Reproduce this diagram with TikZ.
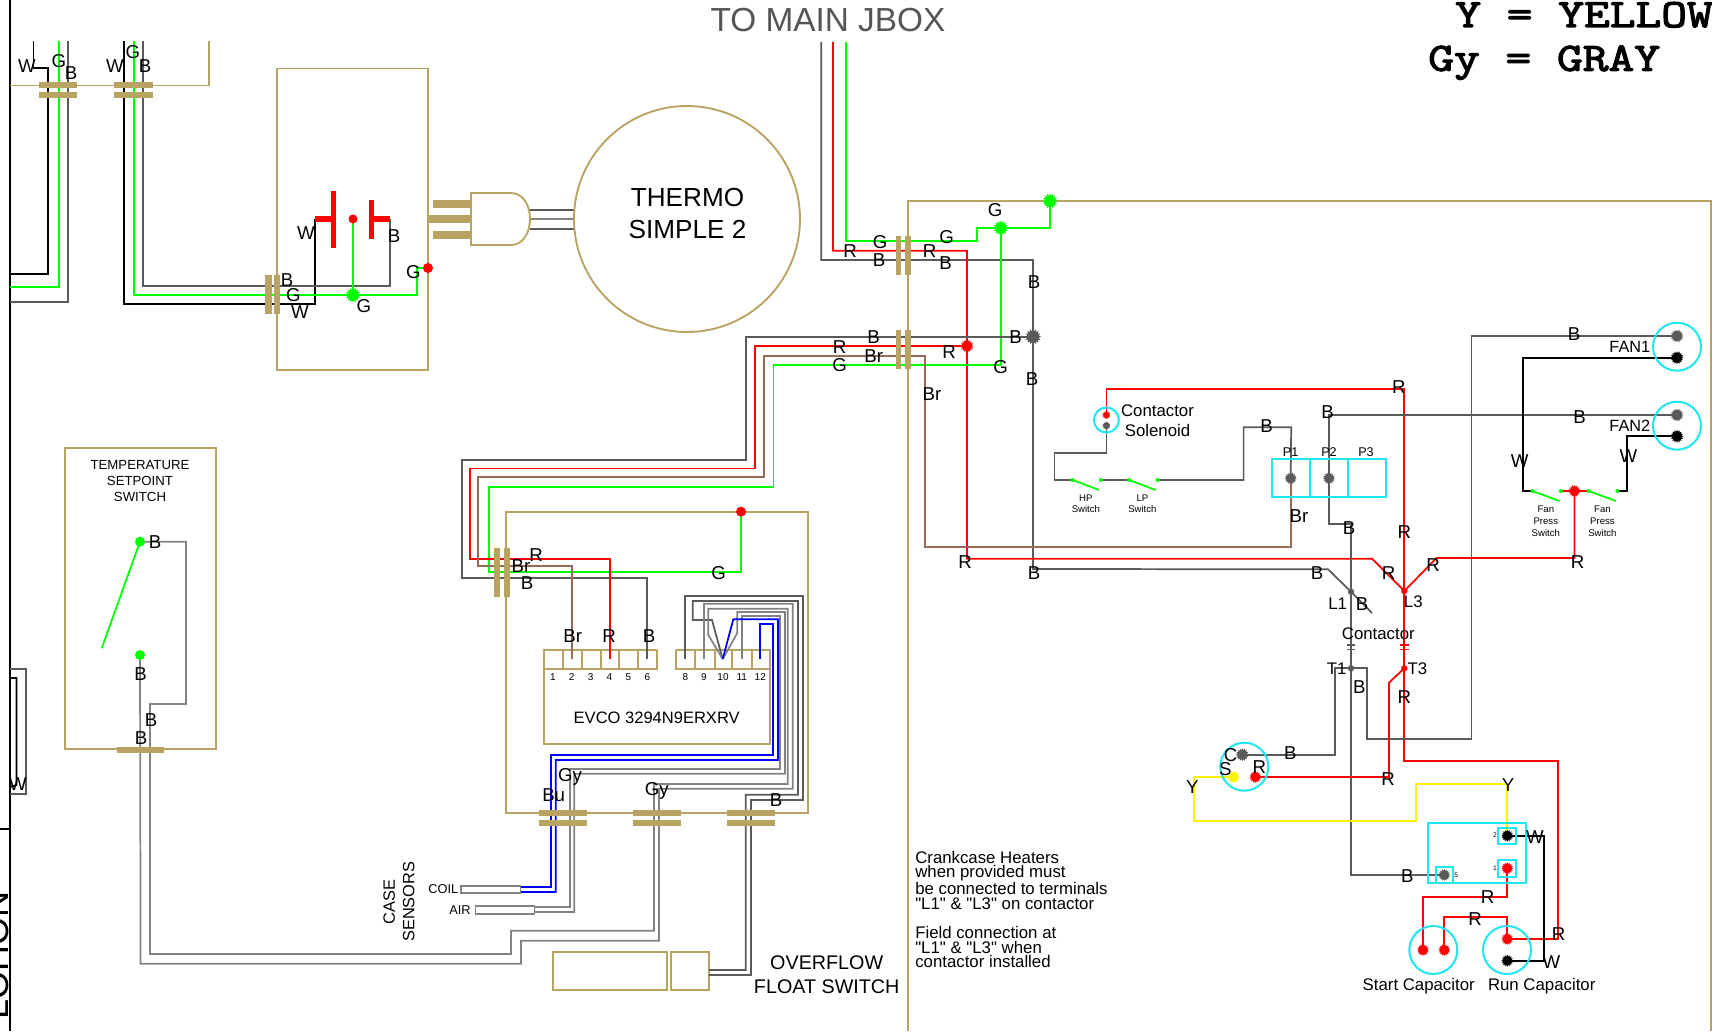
\documentclass[tikz,border=0pt]{standalone}
\usepackage{fontspec}
\setmainfont{Liberation Sans}
\newfontfamily\courb[FakeBold=3,FakeStretch=1.25]{Latin Modern Mono}
\usetikzlibrary{shapes.geometric}
\pgfdeclarelayer{wires}
\pgfsetlayers{wires,main}
\definecolor{tanc}{HTML}{B8A362}
\definecolor{wgray}{HTML}{5A5A5A}
\definecolor{lgray}{HTML}{828282}
\definecolor{brownw}{HTML}{9A6A58}
\definecolor{cyanc}{HTML}{1FE6F2}
\definecolor{titleg}{HTML}{555555}
\tikzset{
  tanl/.style={draw=tanc,line width=1.4pt},
  tanbar/.style={fill=tanc,draw=none},
  wk/.style={draw=black,line width=1.3pt},
  wg/.style={draw=wgray,line width=1.3pt},
  wl/.style={draw=lgray,line width=1.3pt},
  wr/.style={draw=red,line width=1.3pt},
  wn/.style={draw=green,line width=1.3pt},
  wb/.style={draw=brownw,line width=1.3pt},
  wu/.style={draw=blue,line width=1.3pt},
  wy/.style={draw=yellow,line width=1.3pt},
  cyl/.style={draw=cyanc,line width=1.5pt},
  spk/.style={star,star points=16,star point ratio=1.4,inner sep=0pt,draw=none},
  rnd/.style={circle,inner sep=0pt,draw=none},
  lbl/.style={inner sep=0pt,font=\fontsize{14}{16}\selectfont,text height=10pt,text depth=0pt},
  txt/.style={inner sep=0pt,align=center},
  ring/.style={circle,cyl,inner sep=0pt,fill=none},
}
\newcounter{lblc}
\newcommand\lb[3]{\stepcounter{lblc}\node[lbl] (lab\arabic{lblc}) at (#1,#2) {#3};}
\newcommand\sd[5]{\node[spk,fill=#4,minimum size=#5*0.75pt] (#1) at (#2,#3) {};}
\newcommand\rd[5]{\node[rnd,fill=#4,minimum size=#5*0.75pt] (#1) at (#2,#3) {};}
\begin{document}
\begin{tikzpicture}[x=0.75pt,y=-0.75pt,line join=miter]
\useasboundingbox (0,0) rectangle (1712,1031);

% ---- terminal dots
\rd{rS}{353}{219}{red}{9}
\rd{rA}{428}{268}{red}{10}
\sd{gBot}{353}{295}{green}{15}
\rd{rE}{741}{511.7}{red}{10}
\rd{gT1}{140}{541.7}{green}{10}
\rd{gT2}{140}{655}{green}{10}
\sd{gTR}{1050}{201}{green}{15}
\sd{gJ}{1000.7}{228}{green}{15}
\sd{bJ}{1033}{336.7}{wgray}{16}
\sd{rJ}{967}{346}{red}{13}
\sd{csR}{1106.4}{415}{red}{8}
\sd{csB}{1106.4}{425.7}{wgray}{8}
\sd{pA}{1290.7}{478.3}{wgray}{12}
\sd{pB}{1329}{478.3}{wgray}{12}
\sd{fOneG}{1677}{336}{wgray}{13}
\sd{fOneK}{1677}{357.7}{black}{13}
\sd{fTwoG}{1677}{415}{wgray}{13}
\sd{fTwoK}{1677}{436.3}{black}{13}
\sd{rF}{1574.5}{491}{red}{12}
\rd{swA}{1072.6}{480}{green}{4}
\rd{swB}{1100.9}{480}{green}{4}
\rd{swC}{1129}{480}{green}{4}
\rd{swD}{1157.4}{480}{green}{4}
\rd{swE}{1532.5}{491}{green}{4}
\rd{swF}{1560.8}{491}{green}{4}
\rd{swG}{1588.6}{491}{green}{4}
\rd{swH}{1617.4}{491}{green}{4}
\sd{cLa}{1351}{591.7}{wgray}{7}
\sd{cLc}{1404.3}{591}{red}{7}
\sd{cTa}{1351}{668.3}{wgray}{7}
\sd{cTc}{1404.3}{668.3}{red}{7}
\sd{mC}{1242.3}{754.7}{wgray}{13}
\sd{mS}{1233.7}{777}{yellow}{12}
\sd{mR}{1255.3}{777}{red}{12}
\sd{rlTwo}{1507.3}{835.7}{black}{12}
\sd{rlOne}{1507.3}{868.3}{red}{12}
\sd{rlFive}{1444.3}{875}{wgray}{12}
\sd{scA}{1423}{950}{red}{12}
\sd{scB}{1444.3}{950}{red}{12}
\sd{rcR}{1507.3}{939}{red}{12}
\sd{rcK}{1507.3}{960.7}{black}{12}

\begin{pgfonlayer}{wires}
% ---- frame
\draw[black,line width=1.4pt] (10,0) -- (10,1031);
\draw[black,line width=1pt] (0,829) -- (10,829);
\draw[wg] (10,669) -- (26,669) -- (26,794) -- (10,794);
\draw[wk] (10,678) -- (16.5,678) -- (16.5,785) -- (10,787);
% ---- tan boxes
\draw[tanl] (10,85.5) -- (209,85.5) -- (209,41);
\draw[tanl] (277,68.5) rectangle (428,370);
\draw[tanl] (65,448.3) rectangle (215.7,749);
\draw[tanl] (506,511.7) rectangle (808,813);
\draw[tanl] (908,1031) -- (908,201) -- (1711,201) -- (1711,1031);
\draw[tanl] (552.7,952.3) rectangle (666.7,990.3);
\draw[tanl] (670.7,952.3) rectangle (709,990.3);
% EVCO
\draw[tanl] (657,650) -- (543.7,650) -- (543.7,744) -- (770,744) -- (770,650) -- (675.7,650);
\draw[tanl] (543.7,669) -- (657,669) -- (657,650);
\draw[tanl] (770,669) -- (675.7,669) -- (675.7,650);
\foreach \xx in {562.7,581.7,600.7,619.3,638.3,694.7,714.7,732.3,752.3}{\draw[tanl] (\xx,650) -- (\xx,669);}
% ---- upper-left wires
\draw[wk] (33.5,41) -- (33.5,68) -- (48,68) -- (48,274) -- (10,274);
\draw[wn] (58.7,41) -- (58.7,287) -- (10,287);
\draw[wg] (68,41) -- (68,301.7) -- (10,301.7);
\draw[wk] (124,41) -- (124,304) -- (315,304) -- (315,219);
\draw[wn] (134,41) -- (134,295) -- (417,295) -- (417,268) -- (rA.center);
\draw[wg] (143,41) -- (143,286) -- (390,286) -- (390,219);
\draw[wn] (rS.center) -- (gBot.center);
% ---- thermo plug wires
\draw[wg] (530,210) -- (575,210);
\draw[wl] (530,219) -- (575,219);
\draw[wg] (530,229) -- (575,229);
% ---- main jbox wires
\draw[wg] (821.3,42) -- (821.3,260) -- (1033,260) -- (1033,569) -- (1328,569.3) -- (cLa.center) -- (1372,613);
\draw[wr] (833,42) -- (833,250.7) -- (967,250.7) -- (967,558.7) -- (1372,558.7) -- (cLc.center);
\draw[wn] (846,42) -- (846,241) -- (976.7,241) -- (976.7,228) -- (gJ.center) -- (1050,228) -- (gTR.center);
\draw[wn] (gJ.center) -- (1000.7,364.7) -- (773.5,364.7) -- (773.5,487) -- (489,487) -- (489,572.3) -- (741,572.3) -- (rE.center);
\draw[wg] (bJ.center) -- (746,336.7) -- (746,460) -- (461.7,460) -- (461.7,577.7) -- (647.3,577.7) -- (647.3,659);
\draw[wr] (rJ.center) -- (755,346) -- (755,468.5) -- (470.3,468.5) -- (470.3,559) -- (610,559) -- (610,659);
\draw[wb] (pA.center) -- (1290.7,547) -- (925,547) -- (925,355.7) -- (764,355.7) -- (764,477) -- (478.3,477) -- (478.3,566) -- (572,566) -- (572,659);
% ---- controller terminals
\draw[wg] (685,659) -- (685,596) -- (803.3,596) -- (803.3,799.7) -- (750.7,799.7) -- (750.7,974.7) -- (709,974.7);
\draw[wg] (722.7,659) -- (712,620) -- (692.7,620) -- (692.7,601) -- (798,601) -- (798,794.7) -- (745.7,794.7) -- (745.7,970) -- (709,970);
\draw[wl] (704,659) -- (704,603.7) -- (792.7,603.7) -- (792.7,788.7) -- (659,788.7) -- (659,940.7) -- (521,940.7) -- (521,963.7) -- (140.6,963.7) -- (gT2.center);
\draw[wl] (722.7,659) -- (708.3,635) -- (708.3,608.7) -- (787.7,608.7) -- (787.7,784) -- (654,784) -- (654,930.7) -- (511,930.7) -- (511,954) -- (150,954) -- (150,704) -- (186,704) -- (186,541.7) -- (gT1.center);
\draw[wl] (722.7,659) -- (737.3,633) -- (737.3,612) -- (785,612) -- (785,773.7) -- (574.3,773.7) -- (574.3,912) -- (534.4,912);
\draw[wl] (741.7,659) -- (741.7,616) -- (780,616) -- (780,768.7) -- (569.7,768.7) -- (569.7,906.7) -- (534.4,906.7);
\draw[wu] (722.7,659) -- (733.3,619.3) -- (778,619.3) -- (778,760) -- (555.7,760) -- (555.7,892) -- (520.5,892);
\draw[wu] (760.3,659) -- (760.3,624.3) -- (773,624.3) -- (773,755) -- (550.7,755) -- (550.7,886.7) -- (520.5,886.7);
\draw[wl] (461,885.7) rectangle (520.5,893);
\draw[wl] (475.4,906) rectangle (534.4,913.7);
% ---- temperature switch
\draw[wn] (gT1.center) -- (101.7,648.3);
% ---- solenoid + pressure switches
\draw[wr] (csR.center) -- (1106.4,389) -- (1404.3,389) -- (1404.3,760.7) -- (1558.3,760.7) -- (1558.3,939) -- (rcR.center);
\draw[wg] (csB.center) -- (1106.4,453.3) -- (1054.6,453.3) -- (1054.6,480) -- (swA.center);
\draw[wg] (swB.center) -- (swC.center);
\draw[wg] (swD.center) -- (1243.6,480) -- (1243.6,427.3) -- (1291.2,427.3) -- (pA.center);
\draw[wn] (swA.center) -- (1099,490);
\draw[wn] (swC.center) -- (1155.7,490);
\draw[wg] (pB.center) -- (1329,415) -- (fTwoG.center);
\draw[wg] (pB.center) -- (1329,523.7) -- (1351,523.7) -- (1351,875) -- (rlFive.center);
% ---- fan wires
\draw[wg] (fOneG.center) -- (1471.6,336) -- (1471.6,739.3) -- (1367.3,739.3) -- (1367.3,668.3) -- (cTa.center) -- (1335,668.3) -- (1335,754.7) -- (mC.center);
\draw[wk] (fOneK.center) -- (1523,357.7) -- (1523,491) -- (swE.center);
\draw[wn] (swE.center) -- (1559.5,501);
\draw[wr] (swF.center) -- (swG.center);
\draw[wn] (swG.center) -- (1616,501);
\draw[wk] (swH.center) -- (1626.8,491) -- (1626.8,436.3) -- (fTwoK.center);
\draw[wr] (cLc.center) -- (1436.5,558) -- (1574.5,558) -- (rF.center);
% ---- contactor / compressor
\draw[wg,line width=.8pt] (1347.3,645) -- (1355,645) (1347.3,649.3) -- (1355,649.3);
\draw[wr,line width=.8pt] (1400,645) -- (1408.7,645) (1400,649.3) -- (1408.7,649.3);
\draw[wr] (cTc.center) -- (1389,682.7) -- (1389,777) -- (mR.center);
\draw[wy] (mS.center) -- (1194.3,777) -- (1194.3,820.7) -- (1416.3,820.7) -- (1416.3,784.3) -- (1507.3,784.3) -- (rlTwo.center);
\draw[wk] (rlTwo.center) -- (1544,835.7) -- (1544,960.7) -- (rcK.center);
\draw[wr] (rlOne.center) -- (1507.3,896.7) -- (1423,896.7) -- (scA.center);
\draw[wr] (rcR.center) -- (1507.3,917) -- (1444.3,917) -- (scB.center);
\end{pgfonlayer}

% ---- connector bars
\foreach \a/\b in {39/77,114/153}{
  \fill[tanc] (\a,82) rectangle (\b,88);
  \fill[tanc] (\a,92) rectangle (\b,98);}
\fill[tanc] (265,275) rectangle (271.5,314);
\fill[tanc] (274,275) rectangle (280,314);
\foreach \a/\b in {236/275,330/368.7}{
  \fill[tanc] (896,\a) rectangle (901.3,\b);
  \fill[tanc] (905,\a) rectangle (910.7,\b);}
\fill[tanc] (494,548) rectangle (500,596.5);
\fill[tanc] (503.5,548) rectangle (509.5,596.5);
\foreach \a/\b in {539/586.7,633/680.7,727/774.7}{
  \fill[tanc] (\a,810) rectangle (\b,816);
  \fill[tanc] (\a,820) rectangle (\b,825.7);}
\fill[tanc] (117,746.7) rectangle (164,752.7);
% ---- thermo plug
\fill[tanc] (433,200) rectangle (471,208);
\fill[tanc] (428,215) rectangle (471,223);
\fill[tanc] (433,231) rectangle (471,239);
\draw[tanl,fill=white] (471,193) -- (511,193) .. controls (523,193) and (530,205) .. (530,219) .. controls (530,233) and (523,245) .. (511,245) -- (471,245) -- cycle;
\node[circle,tanl,inner sep=0pt,minimum size=226*0.75pt] (thermo) at (687,219) {};
% ---- red thermostat plates
\fill[red] (330.7,191) rectangle (336.3,248);
\fill[red] (368.5,200) rectangle (373.5,239);
\fill[red] (315,216.3) rectangle (331,221.7);
\fill[red] (373,216.3) rectangle (390,221.7);
% ---- cyan parts
\node[ring,minimum size=25*0.75pt] (solenoid) at (1106.4,420) {};
\node[ring,minimum size=48*0.75pt] (fanOne) at (1677,346.7) {};
\node[ring,minimum size=48*0.75pt] (fanTwo) at (1677,425.7) {};
\node[ring,minimum size=48*0.75pt] (motor) at (1244.3,766.7) {};
\node[ring,minimum size=48*0.75pt] (startcap) at (1433.3,950) {};
\node[ring,minimum size=48*0.75pt] (runcap) at (1507,950) {};
\draw[cyl] (1271.9,459.3) rectangle (1385.5,497.3);
\draw[cyl] (1310,459.3) -- (1310,497.3) (1347.7,459.3) -- (1347.7,497.3);
\draw[cyl] (1428,822.7) rectangle (1525.7,883.3);
\draw[cyl] (1498.3,827.7) rectangle (1516.3,844.3);
\draw[cyl] (1498.3,859.7) rectangle (1516.3,876.7);
\draw[cyl] (1435.7,866.7) rectangle (1453.3,883.3);

% ---- clipped texts
\begin{scope}
\clip (0,0) rectangle (1712,1031);
\node[inner sep=0pt,anchor=base west,text=black,font=\fontsize{30}{30}\selectfont\courb\bfseries] (keyY) at (1455,27) {Y = YELLOW};
\node[inner sep=0pt,anchor=base west,rotate=90,font=\fontsize{27}{27}\selectfont] (sideT) at (8,1020) {LOHON};
\end{scope}
\node[inner sep=0pt,anchor=base west,font=\fontsize{30}{30}\selectfont\courb\bfseries] (keyG) at (1428,70.7) {Gy = GRAY};
\node[txt,text=titleg,font=\fontsize{25}{25}\selectfont] (tomain) at (828,20.5) {TO MAIN JBOX};
\node[txt,font=\fontsize{19.6}{23.8}\selectfont] (thermotxt) at (687.5,213.5) {THERMO\\SIMPLE 2};
\node[txt,font=\fontsize{9.9}{12}\selectfont] (tempt) at (140,481.5) {TEMPERATURE\\SETPOINT\\SWITCH};
\node[inner sep=0pt,font=\fontsize{12.4}{15}\selectfont] (evco) at (656.7,717.5) {EVCO 3294N9ERXRV};
\node[txt,font=\fontsize{14.8}{18}\selectfont] (over) at (826.7,975) {OVERFLOW\\FLOAT SWITCH};
\node[txt,rotate=90,font=\fontsize{12.3}{14.6}\selectfont] (case) at (399,901.7) {CASE\\SENSORS};
\node[inner sep=0pt,anchor=east,font=\fontsize{9.6}{11}\selectfont] (coil) at (458.5,889) {COIL};
\node[inner sep=0pt,font=\fontsize{9.6}{11}\selectfont] (air) at (460,910.5) {AIR};
\node[inner sep=0pt,anchor=north west,align=left,font=\fontsize{12.6}{10.9}\selectfont] (crank) at (915,851) {Crankcase Heaters\\when provided must\\be connected to terminals\\\textquotedbl L1\textquotedbl{} \& \textquotedbl L3\textquotedbl{} on contactor\\~\\Field connection at\\\textquotedbl L1\textquotedbl{} \& \textquotedbl L3\textquotedbl{} when\\contactor installed};
\node[txt,font=\fontsize{12.6}{15.5}\selectfont] (solt) at (1157.5,420.7) {Contactor\\Solenoid};
\node[txt,font=\fontsize{7.2}{8.25}\selectfont] (hpt) at (1085.9,504.2) {HP\\Switch};
\node[txt,font=\fontsize{7.2}{8.25}\selectfont] (lpt) at (1142.4,504.2) {LP\\Switch};
\node[txt,font=\fontsize{7.2}{9}\selectfont] (fpa) at (1545.8,520.8) {Fan\\Press\\Switch};
\node[txt,font=\fontsize{7.2}{9}\selectfont] (fpb) at (1602.4,520.8) {Fan\\Press\\Switch};
\foreach \nx/\nt [count=\ni] in {553/1,571.7/2,590.7/3,609.3/4,628.3/5,647.3/6,685.3/8,704/9,723/10,741.7/11,760.3/12}{
  \node[inner sep=0pt,font=\fontsize{7.5}{9}\selectfont] (term\ni) at (\nx,677) {\nt};}
\node[inner sep=0pt,font=\fontsize{12.6}{15}\selectfont] (startt) at (1418.7,986) {Start Capacitor};
\node[inner sep=0pt,font=\fontsize{12.6}{15}\selectfont] (runt) at (1541.7,986) {Run Capacitor};
\node[inner sep=0pt,font=\fontsize{12.2}{15}\selectfont] (fan1t) at (1629.8,346.5) {FAN1};
\node[inner sep=0pt,font=\fontsize{12.2}{15}\selectfont] (fan2t) at (1629.8,425.8) {FAN2};
\node[inner sep=0pt,font=\fontsize{12.6}{15}\selectfont] (contt) at (1378.3,633.3) {Contactor};
\foreach \tx/\ty/\tt [count=\ti] in {1337.7/603.3/L1,1413.3/601.3/L3,1336.7/669/T1,1417.3/668.3/T3}{
  \node[inner sep=0pt,font=\fontsize{12.6}{15}\selectfont] (cont\ti) at (\tx,\ty) {\tt};}
\foreach \tx/\tt [count=\ti] in {1290.7/P1,1329/P2,1366/P3}{
  \node[inner sep=0pt,font=\fontsize{9.5}{11}\selectfont] (plab\ti) at (\tx,452.3) {\tt};}
\foreach \tx/\ty/\tt [count=\ti] in {1495/835.3/2,1495/868.3/1,1456.3/875/5}{
  \node[inner sep=0pt,font=\fontsize{5}{6}\selectfont] (rlab\ti) at (\tx,\ty) {\tt};}

% ---- wire letters
\lb{18}{784}{W}
\lb{27}{66}{W}\lb{59}{61}{G}\lb{71}{73}{B}
\lb{115}{66}{W}\lb{133}{52}{G}\lb{145}{66}{B}
\lb{306}{233}{W}\lb{394}{236}{B}\lb{287}{280}{B}\lb{293.5}{295}{G}\lb{300}{312}{W}\lb{364}{306}{G}\lb{413.5}{272}{G}
\lb{155}{541.7}{B}\lb{140.6}{674}{B}\lb{151}{720}{B}\lb{141}{738}{B}
\lb{850}{251}{R}\lb{880}{241.7}{G}\lb{879}{260}{B}\lb{946.7}{237}{G}\lb{929.7}{251}{R}\lb{945.7}{263}{B}\lb{995}{210}{G}\lb{1034}{281.7}{B}\lb{1015.7}{337}{B}\lb{1032}{379}{B}\lb{949}{351.7}{R}\lb{1000.7}{367}{G}\lb{873.7}{336.7}{B}\lb{839.7}{346.7}{R}\lb{873.7}{356}{Br}\lb{839.7}{365}{G}\lb{932}{394}{Br}\lb{965}{562}{R}\lb{1034}{573}{B}
\lb{536}{555}{R}\lb{521}{565.7}{Br}\lb{527}{583}{B}\lb{718.7}{572.7}{G}\lb{572.7}{635.7}{Br}\lb{609}{635.7}{R}\lb{649}{635.7}{B}\lb{570}{774.7}{Gy}\lb{553.7}{794.7}{Bu}\lb{656.7}{788.7}{Gy}\lb{776}{800}{B}
\lb{1398.8}{387.3}{R}\lb{1266.7}{426.3}{B}\lb{1327.6}{412.3}{B}\lb{1298.9}{516}{Br}\lb{1349}{527.7}{B}\lb{1404.3}{532.3}{R}\lb{1388.5}{573.3}{R}\lb{1433}{565.3}{R}\lb{1577.5}{562.3}{R}\lb{1317}{573.3}{B}
\lb{1574}{334}{B}\lb{1579.6}{417.3}{B}\lb{1519.6}{461}{W}\lb{1628.5}{456}{W}
\lb{1362}{604.3}{B}\lb{1359.3}{686.7}{B}\lb{1404.3}{696.7}{R}\lb{1290.3}{752.7}{B}\lb{1230.7}{755}{C}\lb{1225.3}{769}{S}\lb{1259.3}{767.3}{R}\lb{1192.3}{787.3}{Y}\lb{1388}{779.3}{R}\lb{1508}{785}{Y}\lb{1535}{836.7}{W}\lb{1407.3}{876}{B}\lb{1487.7}{897.3}{R}\lb{1475}{919.3}{R}\lb{1558.7}{934}{R}\lb{1551.3}{961.7}{W}
\end{tikzpicture}
\end{document}
